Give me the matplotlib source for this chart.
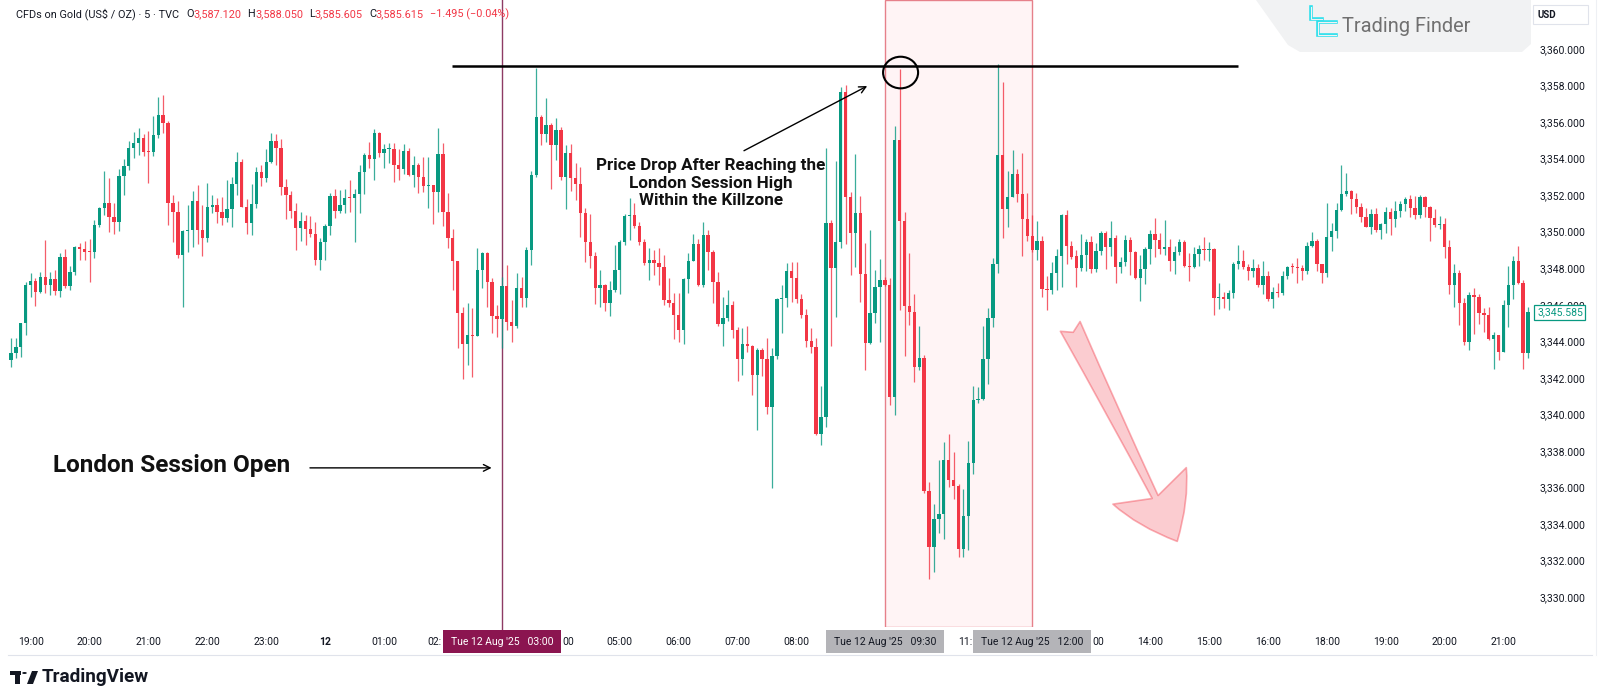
import numpy as np
import matplotlib
matplotlib.use("Agg")
import matplotlib.pyplot as plt
from matplotlib.patches import Rectangle, Ellipse, FancyArrowPatch, Polygon, Circle
from matplotlib.lines import Line2D
from matplotlib.transforms import blended_transform_factory

plt.rcParams['font.family'] = ['Roboto', 'DejaVu Sans']

# XAUUSD 5-minute bars, 18:40 (Aug 11) .. 21:25 (Aug 12). open = previous close.
first_open = 3342.98
closes = [
    3343.34, 3343.71, 3344.98, 3347.08,
    # 19h
    3347.30, 3346.72, 3347.54, 3347.08, 3347.39, 3346.75, 3348.63, 3347.03, 3347.81, 3349.18, 3349.03, 3348.90,
    # 20h
    3348.88, 3350.37, 3351.28, 3351.55, 3350.82, 3350.51, 3353.07, 3353.59, 3354.56, 3354.87, 3355.10, 3354.38,
    # 21h
    3354.36, 3355.29, 3356.40, 3355.97, 3351.55, 3351.10, 3348.72, 3350.05, 3350.10, 3351.68, 3350.10, 3349.67,
    # 22h
    3351.33, 3351.46, 3351.10, 3350.73, 3351.22, 3352.61, 3353.80, 3351.37, 3350.50, 3351.50, 3353.29, 3352.92,
    # 23h
    3353.83, 3354.96, 3354.60, 3352.43, 3352.00, 3351.15, 3350.20, 3350.60, 3350.15, 3349.87, 3348.45, 3349.45,
    # 00h
    3350.31, 3351.95, 3351.13, 3351.46, 3351.86, 3351.84, 3352.06, 3353.29, 3354.20, 3354.00, 3355.38, 3354.29,
    # 01h
    3354.50, 3354.55, 3353.65, 3353.41, 3354.43, 3353.10, 3353.65, 3353.00, 3352.50, 3352.56, 3352.19, 3354.23,
    # 02h
    3351.06, 3349.67, 3348.40, 3345.53, 3343.84, 3344.35, 3344.30, 3347.90, 3348.85, 3347.27, 3345.41, 3345.22,
    # 03h
    3347.00, 3345.08, 3344.86, 3346.94, 3346.35, 3349.00, 3353.10, 3356.30, 3355.33, 3355.84, 3354.75, 3355.55,
    # 04h
    3353.00, 3354.30, 3352.92, 3352.59, 3351.00, 3349.46, 3348.67, 3346.94, 3347.08, 3346.08, 3346.81, 3347.90,
    # 05h
    3349.46, 3350.86, 3350.90, 3350.33, 3349.46, 3348.27, 3348.45, 3348.27, 3348.05, 3346.26, 3346.08, 3345.44,
    # 06h
    3344.62, 3347.40, 3348.42, 3349.33, 3347.09, 3349.82, 3348.91, 3347.27, 3344.93, 3345.26, 3345.99, 3344.62,
    # 07h
    3343.02, 3343.86, 3343.75, 3342.16, 3343.53, 3343.02, 3340.39, 3343.20, 3346.30, 3346.36, 3347.87, 3347.45,
    # 08h
    3346.30, 3345.44, 3344.04, 3343.71, 3338.93, 3339.88, 3350.46, 3348.00, 3349.46, 3357.66, 3351.88, 3349.91,
    # 09h
    3351.04, 3347.69, 3343.89, 3345.57, 3346.96, 3347.38, 3347.10, 3340.95, 3355.00, 3350.61, 3345.94, 3345.62,
    # 10h
    3342.58, 3343.08, 3335.80, 3332.72, 3334.26, 3334.55, 3337.48, 3336.41, 3336.10, 3332.62, 3334.41, 3337.34,
    # 11h
    3340.77, 3340.86, 3343.01, 3345.29, 3348.23, 3354.20, 3351.26, 3351.92, 3353.14, 3352.05, 3350.70, 3349.74,
    # 12h
    3349.02, 3349.49, 3346.88, 3346.82, 3347.72, 3348.65, 3350.92, 3349.21, 3348.64, 3348.00, 3348.74, 3349.43,
    # 13h
    3347.93, 3348.95, 3349.95, 3349.18, 3349.64, 3348.05, 3348.36, 3349.55, 3348.91, 3347.45, 3347.94, 3349.04,
    # 14h
    3349.88, 3349.55, 3349.04, 3349.15, 3348.42, 3348.91, 3349.46, 3348.12, 3348.08, 3348.78, 3349.04, 3348.97,
    # 15h
    3349.05, 3346.36, 3346.40, 3346.30, 3346.63, 3348.23, 3348.42, 3348.09, 3347.82, 3348.03, 3347.09, 3347.58,
    # 16h
    3346.30, 3346.72, 3346.63, 3347.58, 3348.09, 3348.07, 3348.00, 3347.82, 3349.22, 3349.51, 3348.24, 3347.76,
    # 18h
    3349.69, 3350.06, 3351.19, 3352.07, 3352.25, 3351.77, 3351.37, 3350.82, 3350.28, 3350.97, 3350.10, 3350.42,
    # 19h
    3351.10, 3350.68, 3351.15, 3351.52, 3351.77, 3351.28, 3350.92, 3351.92, 3351.37, 3350.73, 3350.37, 3350.42,
    # 20h
    3349.15, 3347.09, 3347.72, 3346.08, 3343.98, 3346.54, 3346.45, 3345.53, 3345.44, 3344.11, 3344.35, 3343.44,
    # 21h
    3345.99, 3347.09, 3348.42, 3347.21, 3343.35, 3345.585,
]
highs = [
    3344.16, 3344.16, 3345.00, 3347.27,
    3347.76, 3347.45, 3347.81, 3349.54, 3347.80, 3347.90, 3348.85, 3349.03, 3348.10, 3349.20, 3349.40, 3349.50,
    3349.60, 3350.64, 3351.35, 3353.34, 3352.96, 3351.55, 3353.41, 3354.00, 3354.98, 3355.45, 3355.65, 3355.35,
    3355.50, 3356.33, 3357.35, 3357.48, 3356.07, 3352.00, 3351.70, 3350.10, 3351.46, 3352.20, 3352.55, 3351.46,
    3352.65, 3352.00, 3351.83, 3351.90, 3352.83, 3353.00, 3354.34, 3353.95, 3351.80, 3352.60, 3353.56, 3353.65,
    3354.50, 3355.38, 3355.35, 3355.05, 3352.87, 3352.20, 3351.55, 3351.10, 3350.90, 3350.86, 3350.53, 3349.64,
    3350.40, 3352.10, 3352.32, 3352.30, 3352.32, 3352.83, 3352.32, 3353.65, 3354.33, 3354.93, 3355.62, 3355.44,
    3354.80, 3354.84, 3354.84, 3354.50, 3354.80, 3354.56, 3354.14, 3353.78, 3354.07, 3354.07, 3352.56, 3355.66,
    3354.84, 3352.10, 3350.15, 3348.40, 3345.86, 3346.08, 3345.80, 3349.10, 3348.90, 3348.90, 3347.45, 3345.99,
    3347.50, 3348.20, 3346.26, 3347.72, 3347.50, 3349.18, 3353.30, 3358.94, 3356.40, 3357.30, 3355.93, 3356.24,
    3355.75, 3354.75, 3354.78, 3353.74, 3353.56, 3351.28, 3350.95, 3348.90, 3347.90, 3347.12, 3347.32, 3349.27,
    3349.55, 3350.95, 3351.83, 3351.55, 3350.55, 3349.60, 3349.10, 3348.99, 3349.10, 3348.73, 3347.45, 3346.66,
    3346.66, 3347.45, 3348.85, 3349.87, 3349.60, 3350.55, 3350.10, 3349.00, 3347.81, 3346.45, 3346.78, 3346.23,
    3344.80, 3344.71, 3344.84, 3343.80, 3343.62, 3343.62, 3344.17, 3343.62, 3346.35, 3347.09, 3348.30, 3348.36,
    3348.36, 3346.60, 3345.75, 3344.71, 3344.17, 3341.56, 3354.56, 3350.64, 3353.89, 3357.94, 3358.03, 3352.19,
    3354.23, 3351.95, 3349.36, 3350.10, 3347.90, 3348.52, 3347.53, 3347.49, 3355.79, 3358.92, 3351.08, 3348.84,
    3346.59, 3344.82, 3343.23, 3336.32, 3335.10, 3337.48, 3338.49, 3338.93, 3337.96, 3336.17, 3335.90, 3338.56,
    3341.55, 3341.51, 3344.82, 3345.81, 3348.56, 3359.19, 3358.17, 3353.32, 3354.48, 3353.41, 3354.30, 3352.10,
    3350.89, 3350.56, 3349.74, 3347.57, 3348.36, 3349.05, 3350.97, 3351.17, 3349.49, 3348.99, 3349.87, 3349.58,
    3349.74, 3349.40, 3350.06, 3350.06, 3350.60, 3349.82, 3348.60, 3349.82, 3349.73, 3348.95, 3348.73, 3349.15,
    3350.09, 3350.73, 3349.91, 3350.64, 3349.59, 3349.22, 3349.59, 3349.55, 3348.82, 3349.15, 3349.28, 3349.73,
    3349.46, 3349.10, 3347.18, 3346.72, 3346.78, 3348.36, 3349.28, 3348.99, 3348.23, 3348.49, 3348.23, 3348.42,
    3347.82, 3346.99, 3347.21, 3347.87, 3348.12, 3348.30, 3348.54, 3348.18, 3349.46, 3350.00, 3349.60, 3348.24,
    3351.56, 3350.46, 3351.56, 3353.65, 3353.23, 3352.29, 3352.14, 3351.55, 3351.28, 3351.23, 3351.28, 3350.50,
    3351.37, 3351.28, 3351.70, 3351.70, 3351.92, 3352.01, 3351.96, 3352.01, 3351.96, 3351.41, 3351.23, 3350.86,
    3350.73, 3349.55, 3348.24, 3347.90, 3346.36, 3346.72, 3346.90, 3346.60, 3345.81, 3345.90, 3344.53, 3344.35,
    3346.26, 3348.13, 3348.67, 3349.22, 3347.36, 3345.86,
]
lows = [
    3342.61, 3343.07, 3343.16, 3344.35,
    3346.44, 3345.93, 3346.63, 3346.63, 3346.54, 3346.54, 3346.44, 3346.90, 3346.80, 3347.63, 3348.45, 3348.45,
    3347.27, 3348.54, 3350.28, 3350.90, 3349.96, 3349.87, 3350.05, 3352.00, 3353.40, 3354.03, 3354.20, 3354.14,
    3352.65, 3354.14, 3355.10, 3355.38, 3350.37, 3349.45, 3348.54, 3345.90, 3348.90, 3349.18, 3349.33, 3348.67,
    3349.45, 3351.00, 3350.46, 3350.37, 3350.55, 3350.24, 3352.00, 3351.33, 3349.88, 3349.80, 3351.28, 3352.52,
    3352.74, 3353.78, 3353.65, 3352.00, 3350.68, 3350.73, 3349.00, 3349.50, 3349.27, 3349.73, 3348.18, 3347.90,
    3348.45, 3349.80, 3350.73, 3351.00, 3351.04, 3351.06, 3349.45, 3351.04, 3352.06, 3353.47, 3352.83, 3354.10,
    3353.50, 3353.74, 3352.74, 3352.83, 3353.16, 3353.07, 3352.46, 3352.10, 3352.19, 3351.30, 3350.40, 3351.10,
    3350.33, 3349.13, 3346.81, 3343.65, 3341.94, 3342.71, 3342.07, 3344.30, 3346.90, 3345.86, 3344.44, 3344.26,
    3343.62, 3344.62, 3343.95, 3344.71, 3345.90, 3345.90, 3348.20, 3353.00, 3354.75, 3354.93, 3352.34, 3353.92,
    3352.83, 3351.24, 3352.20, 3351.74, 3349.73, 3348.36, 3348.00, 3346.03, 3345.90, 3345.66, 3345.40, 3346.68,
    3346.57, 3349.27, 3349.55, 3350.20, 3349.27, 3348.18, 3347.36, 3347.63, 3347.10, 3345.99, 3345.86, 3344.11,
    3343.98, 3343.86, 3346.66, 3348.42, 3347.00, 3346.96, 3347.90, 3346.12, 3344.84, 3343.75, 3345.10, 3344.17,
    3341.85, 3342.16, 3343.44, 3341.07, 3339.15, 3342.10, 3340.03, 3335.96, 3343.02, 3344.44, 3345.90, 3346.17,
    3346.08, 3345.26, 3343.70, 3343.35, 3338.88, 3338.33, 3339.32, 3343.75, 3345.35, 3349.09, 3349.33, 3347.63,
    3348.05, 3346.17, 3342.43, 3343.86, 3344.99, 3343.94, 3347.05, 3340.52, 3339.97, 3345.70, 3343.19, 3344.91,
    3341.78, 3342.44, 3335.67, 3331.00, 3331.37, 3333.48, 3333.15, 3336.04, 3335.35, 3332.17, 3332.21, 3332.58,
    3336.73, 3340.61, 3340.81, 3341.65, 3344.76, 3347.72, 3349.66, 3350.28, 3351.87, 3351.64, 3348.65, 3349.49,
    3348.88, 3348.43, 3346.45, 3345.70, 3346.59, 3346.82, 3346.97, 3348.23, 3348.50, 3346.97, 3347.86, 3347.82,
    3347.72, 3347.80, 3348.73, 3347.94, 3348.67, 3347.18, 3347.72, 3348.12, 3347.63, 3347.40, 3346.23, 3347.14,
    3348.23, 3348.63, 3348.78, 3348.72, 3347.87, 3347.69, 3348.73, 3348.09, 3347.32, 3348.00, 3348.12, 3348.45,
    3348.42, 3345.44, 3345.75, 3345.80, 3345.72, 3346.36, 3347.94, 3347.94, 3347.36, 3347.54, 3346.99, 3346.59,
    3346.23, 3345.81, 3346.41, 3346.54, 3347.40, 3347.76, 3347.21, 3347.36, 3347.69, 3349.15, 3347.87, 3347.21,
    3347.50, 3348.96, 3349.64, 3351.15, 3351.96, 3350.97, 3351.04, 3350.55, 3350.24, 3349.88, 3350.00, 3349.59,
    3349.91, 3349.82, 3350.24, 3350.79, 3351.15, 3350.79, 3350.68, 3350.73, 3350.79, 3349.51, 3350.24, 3350.13,
    3348.55, 3346.60, 3345.86, 3344.90, 3343.80, 3343.53, 3344.40, 3344.95, 3344.53, 3344.08, 3342.47, 3342.98,
    3343.44, 3344.77, 3346.30, 3347.14, 3342.47, 3343.07,
]

# time axis: first label (19:00) is bar 4, one label per 12 bars; no bars in the 17:00 hour
time_labels = ["19:00", "20:00", "21:00", "22:00", "23:00", "12", "01:00", "02:00", "03:00",
               "04:00", "05:00", "06:00", "07:00", "08:00", "09:00", "10:00", "11:00", "12:00",
               "13:00", "14:00", "15:00", "16:00", "18:00", "19:00", "20:00", "21:00"]
first_label_bar = 4
london_open_bar = 100      # 03:00
killzone_bars = (178, 208)  # 09:30 .. 12:00
price_ticks = [3330, 3332, 3334, 3336, 3338, 3340, 3342, 3344, 3346, 3348, 3350,
               3352, 3354, 3356, 3358, 3360]
session_high = 3359.05
last_price = closes[-1]
header_parts = [("CFDs on Gold (US$ / OZ) · 5 · TVC", 'ink', 7), ("O", 'ink', 0), ("3,587.120", 'red', 6),
                ("H", 'ink', 0), ("3,588.050", 'red', 6), ("L", 'ink', 0), ("3,585.605", 'red', 6),
                ("C", 'ink', 0), ("3,585.615", 'red', 6), ("\u22121.495 (\u22120.04%)", 'red', 0)]

GREEN = '#089981'
RED = '#F23645'
INK = '#131722'

W, H = 1600, 700
fig = plt.figure(figsize=(W / 100, H / 100), dpi=100)
fig.patch.set_facecolor('white')
PANE_L, PANE_R, PANE_B = 8, 1531, 627
ax = fig.add_axes([PANE_L / W, 1 - PANE_B / H, (PANE_R - PANE_L) / W, PANE_B / H])
ax.set_facecolor('white')
ax.set_xlim(-0.6, 309.6)
ax.set_ylim(3328.36, 3362.68)
for s in ax.spines.values():
    s.set_visible(False)
bars_per_px = (309.6 + 0.6) / (PANE_R - PANE_L)

c = np.array(closes)
hi = np.array(highs)
lo = np.array(lows)
o = np.r_[first_open, c[:-1]]
xs = np.arange(len(c))
cols = np.where(c >= o, GREEN, RED)

ax.vlines(xs, lo, hi, colors=cols, linewidth=0.9, alpha=0.8, zorder=3)
ax.bar(xs, np.maximum(np.abs(c - o), 0.06), bottom=np.minimum(o, c), width=0.68,
       color=cols, linewidth=0, zorder=4)

# killzone box and London open line
bt = blended_transform_factory(ax.transData, ax.transAxes)
ax.add_patch(Rectangle((killzone_bars[0], 0), killzone_bars[1] - killzone_bars[0], 1,
                       transform=bt, facecolor='#FFF4F5', edgecolor='#E6808A', lw=1.0, zorder=1))
ax.plot([london_open_bar, london_open_bar], [-0.006, 1], transform=bt, color='#8E3B64',
        lw=1.0, zorder=2, clip_on=False)

# session high line + circle
ax.hlines(session_high, 89.8, 249.9, color='black', lw=1.8, zorder=6)
ax.add_patch(Ellipse((181.2, 3358.71), 7.13, 1.73, fill=False, edgecolor='black', lw=1.5, zorder=7))

ax.annotate('', xy=(174.4, 3357.97), xytext=(149.3, 3354.43),
            arrowprops=dict(arrowstyle='->', color='black', lw=1.0, shrinkA=0, shrinkB=0,
                            mutation_scale=12), zorder=8)
ax.text(142.5, 3352.65, "Price Drop After Reaching the\nLondon Session High\nWithin the Killzone",
        ha='center', va='center', fontsize=12.3, fontweight='bold', linespacing=1.2,
        color='#111111', zorder=8)

ax.text(8.6, 3337.2, "London Session Open", ha='left', va='center', fontsize=17.5,
        fontweight='bold', color='#111111', zorder=8)
ax.annotate('', xy=(97.9, 3337.07), xytext=(60.9, 3337.07),
            arrowprops=dict(arrowstyle='->', color='black', lw=1.0, shrinkA=0, shrinkB=0,
                            mutation_scale=12), zorder=8)

# big pink arrow
ax.add_patch(FancyArrowPatch((215.5, 3344.95), (237.8, 3332.91),
                             arrowstyle='fancy,head_length=0.62,head_width=0.82,tail_width=0.22',
                             mutation_scale=72, facecolor=(0.95, 0.21, 0.27, 0.25),
                             edgecolor=(0.95, 0.21, 0.27, 0.40), lw=1.2, zorder=5))

# time axis labels (the date boxes hide some of them, partly or fully)
box_w = 118 * bars_per_px
boxes = [(london_open_bar, "03:00", '#8B1550', 'white'),
         (killzone_bars[0], "09:30", '#B4B4B8', INK),
         (killzone_bars[1], "12:00", '#B4B4B8', INK)]
tick_pos = [first_label_bar + 12 * k for k in range(len(time_labels))]
lab_w = 24 * bars_per_px
gap = 1 * bars_per_px
ty = -0.0239
for pos, lab in zip(tick_pos, time_labels):
    l, r = pos - lab_w / 2, pos + lab_w / 2
    kw = dict(transform=bt, va='center', fontsize=7.5, color=INK, clip_on=False, zorder=9)
    hidden = False
    for bx, *_ in boxes:
        bl, br = bx - box_w / 2, bx + box_w / 2
        if l >= bl and r <= br:
            hidden = True
        elif l < bl < r:
            ax.text(bl - gap, ty, lab[:3], ha='right', **kw)
            hidden = True
        elif l < br < r:
            ax.text(br + gap, ty, lab[3:], ha='left', **kw)
            hidden = True
    if not hidden:
        ax.text(pos, ty, lab, ha='center', fontweight='bold' if lab == "12" else 'normal', **kw)

for bx, t, fc, tc in boxes:
    ax.add_patch(Rectangle((bx - box_w / 2, -0.0415), box_w, 0.0367, transform=bt,
                           facecolor=fc, edgecolor='none', clip_on=False, zorder=10))
    ax.text(bx, ty, f"Tue 12 Aug '25   {t}", transform=bt, ha='center', va='center',
            fontsize=7.5, color=tc, clip_on=False, zorder=11)
ax.set_xticks([])

ax.yaxis.tick_right()
ax.set_yticks(price_ticks, [f"{v:,.3f}" for v in price_ticks])
ax.tick_params(axis='y', length=0, pad=6, labelsize=7.5, labelcolor=INK)

# last price label
yt = blended_transform_factory(ax.transAxes, ax.transData)
ax.text(1.0 + 6 / (PANE_R - PANE_L), last_price, f"{last_price:,.3f}", transform=yt,
        ha='left', va='center', fontsize=7.5, color=GREEN, clip_on=False, zorder=10,
        bbox=dict(boxstyle='square,pad=0.25', fc='white', ec=GREEN, lw=0.9))


def P(x, y):
    return (x / W, 1 - y / H)


# borders
fig.add_artist(Line2D([P(PANE_L, 655)[0], P(1592, 655)[0]], [P(0, 655)[1]] * 2,
                      color='#E0E3EB', lw=0.8))
fig.add_artist(Line2D([P(1596, 0)[0]] * 2, [P(0, 0)[1], P(0, 655)[1]], color='#EEF0F4', lw=0.8))

# header, laid out piece by piece
renderer = fig.canvas.get_renderer()
hx = 16
for txt, tone, after in header_parts:
    t = fig.text(hx / W, 1 - 14 / H, txt, fontsize=7.8, va='center',
                 color=INK if tone == 'ink' else RED)
    hx = t.get_window_extent(renderer).x1 + after

# Trading Finder watermark
fig.add_artist(Polygon([P(1256, 0), P(1531, 0), P(1531, 44), P(1522, 52), P(1300, 52), P(1288, 45)],
                       closed=True, transform=fig.transFigure, fc='#F1F2F3', ec='none'))
for path in ([(1311, 7), (1311, 19), (1322, 19)], [(1336, 22), (1318, 22), (1318, 35), (1336, 35)]):
    fig.add_artist(Line2D([P(*p)[0] for p in path], [P(*p)[1] for p in path],
                          color='#2FE0EC', lw=2.6, solid_joinstyle='miter'))
    fig.add_artist(Line2D([P(*p)[0] for p in path], [P(*p)[1] for p in path],
                          color='#F1F2F3', lw=0.8, solid_joinstyle='miter'))
fig.text(1342 / W, 1 - 26 / H, "Trading Finder", fontsize=14.4, color='#707070', va='center')

# USD box
fig.add_artist(Rectangle(P(1533, 24), 55 / W, 19 / H, transform=fig.transFigure,
                         fc='white', ec='#E0E3EB', lw=0.8))
fig.text(1538 / W, 1 - 14.5 / H, "USD", fontsize=7, fontweight='bold', color=INK, va='center')

# TradingView logo
fig.add_artist(Rectangle(P(10, 675), 11 / W, 4 / H, transform=fig.transFigure, fc=INK, ec='none'))
fig.add_artist(Rectangle(P(15, 684), 5 / W, 10 / H, transform=fig.transFigure, fc=INK, ec='none'))
fig.add_artist(Circle(P(24.5, 673), 2.3 / W, transform=fig.transFigure, fc=INK, ec='none'))
fig.add_artist(Polygon([P(27, 684), P(32, 671), P(38, 671), P(33, 684)], closed=True,
                       transform=fig.transFigure, fc=INK, ec='none'))
fig.text(42 / W, 1 - 677 / H, "TradingView", fontsize=13.6, fontweight='bold', color=INK, va='center')

fig.savefig("out.png", dpi=100, facecolor='white')
